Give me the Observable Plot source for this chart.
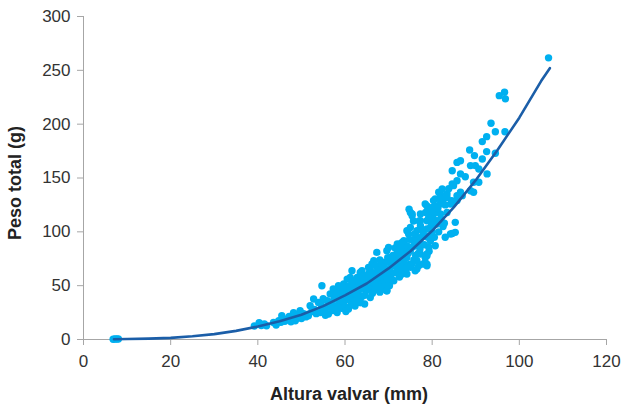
<!DOCTYPE html>
<html>
<head>
<meta charset="utf-8">
<script src="https://cdn.jsdelivr.net/npm/d3@7"></script>
<script src="https://cdn.jsdelivr.net/npm/@observablehq/plot@0.6"></script>
<style>
  html, body { margin: 0; padding: 0; background: #fff; }
  #chart svg { display: block; }
</style>
</head>
<body>
<div id="chart"></div>
<script>
// Observed points: Altura valvar (mm) vs Peso total (g)
const alturas = [
  6.8,7.2,7.6,8.0,
  39.2,40.3,40.8,41.5,42.0,43.6,44.2,44.8,45.5,45.3,
  46.2,46.7,47.2,47.6,48.2,48.6,49.0,49.4,49.7,50.0,50.5,
  51.0,51.6,51.6,52.0,52.4,52.8,53.0,53.4,53.9,54.3,54.7,54.7,54.5,55.0,55.3,55.5,55.9,56.2,56.2,56.6,56.8,57.2,57.3,57.6,57.9,
  58.2,58.2,58.5,58.6,59.0,59.2,59.7,59.7,59.8,60.0,60.2,60.5,60.5,60.8,61.0,61.2,61.2,61.5,61.6,62.0,62.0,62.3,62.5,62.8,62.8,
  63.0,63.3,63.5,63.5,63.9,63.9,64.0,64.3,64.3,64.5,64.8,65.1,65.2,65.4,65.8,65.8,66.0,66.2,66.3,66.6,66.6,66.9,67.0,67.3,67.3,
  67.3,67.5,67.7,68.0,68.1,68.4,68.9,68.9,69.0,69.3,69.6,69.6,69.6,69.8,70.0,70.2,70.4,70.4,70.7,71.0,71.2,71.2,71.5,71.6,72.0,
  72.3,72.5,72.7,72.7,73.0,73.1,73.1,73.1,73.5,73.8,74.2,74.2,74.2,74.2,74.6,74.7,74.8,75.0,75.0,75.0,75.0,75.4,75.4,75.6,75.8,
  76.1,76.1,76.5,76.5,76.5,76.5,76.8,77.0,77.3,77.3,77.3,77.3,77.5,77.8,78.0,78.4,78.4,78.4,78.4,78.8,78.8,78.8,78.8,78.8,
  79.2,79.2,79.6,79.6,79.6,79.9,80.0,80.3,80.3,80.5,80.7,80.7,80.7,81.1,81.1,81.5,81.5,81.9,81.9,81.9,82.3,82.6,82.5,83.0,
  83.4,83.4,83.4,84.2,84.2,84.5,84.6,84.6,84.6,84.9,84.9,85.3,85.3,85.7,85.7,85.7,85.7,86.5,86.5,86.5,86.9,87.6,88.6,88.8,88.8,
  89.5,89.5,89.7,89.9,90.7,90.7,91.5,91.5,92.5,92.5,92.6,93.5,94.5,94.5,95.4,96.6,96.8,96.7,106.7,
  60.8,63.5,76.9,61.5,58.0,57.0,59.0,64.0,66.0,68.5,70.8,72.0,62.0,65.0,
  58.5,59.5,60.5,61.5,60.0,61.0,58.8,
  62.5,63.5,64.5,65.5,63.0,64.0,65.0,62.2,66.0,65.6,
  66.5,67.5,68.5,69.5,67.0,68.0,69.0,70.0,66.8,68.2,69.2,
  70.5,71.5,72.5,73.5,71.0,72.0,73.0,70.2,71.8,73.5,74.0,
  74.5,75.5,76.5,77.5,75.3,76.2,77.2,74.8,76.0,77.7,75.7,
  78.2,79.0,80.0,79.3,80.2,79.5,78.5,80.8,
  81.3,82.0,83.0,82.8,83.8,81.8,
  70.0,72.0,73.5,78.8,78.8,69.6,67.3,66.9
];
const pesos = [
  0.3,0.4,0.4,0.5,
  12.5,15.5,13.0,14.5,12.8,15.8,13.5,17.5,22.0,16.0,
  17.0,19.0,21.5,16.5,25.0,17.4,20.0,23.0,26.7,19.5,24.0,
  21.0,23.6,22.0,31.3,26.0,37.6,28.0,24.0,34.4,25.1,29.7,49.9,33.0,38.0,27.0,22.5,36.0,23.6,30.0,42.2,33.0,27.0,47.0,38.0,31.0,
  45.3,25.1,49.9,35.0,40.0,29.0,51.5,32.9,44.0,37.0,26.0,48.3,56.1,29.7,41.0,36.0,57.6,46.0,63.9,43.7,52.0,31.0,38.0,48.3,57.6,
  44.0,35.0,62.3,34.4,63.9,40.0,50.0,54.6,48.3,33.0,45.0,56.1,60.0,66.9,65.4,39.0,52.0,70.1,43.0,48.3,73.2,58.0,62.0,56.1,80.9,
  48.3,66.0,54.6,44.0,62.3,70.0,71.6,46.9,57.0,64.0,54.6,45.3,82.5,76.0,60.0,50.0,62.3,76.2,69.0,55.0,68.5,54.6,85.0,74.0,64.0,
  84.0,58.0,74.7,88.7,79.0,68.5,60.8,90.2,65.0,83.0,60.8,76.2,87.1,101.0,98.0,121.0,70.0,67.0,82.5,104.0,118.0,115.0,116.6,92.0,74.0,
  87.1,63.9,65.4,73.2,94.8,101.0,80.0,110.0,79.4,110.3,116.6,105.7,88.0,70.0,97.0,96.4,71.6,76.2,125.9,124.0,110.3,102.6,79.4,68.5,
  113.4,86.0,91.8,104.1,116.6,107.3,122.7,129.0,108.8,95.0,124.0,87.1,130.5,110.3,107.3,136.7,100.0,135.0,116.6,125.9,139.8,130.5,105.0,95.0,
  132.0,118.0,135.2,125.9,98.0,129.0,98.5,144.5,156.8,127.4,142.9,99.5,108.8,133.6,129.0,147.5,164.5,166.0,153.8,136.7,133.6,151.2,176.0,161.5,138.2,
  136.7,146.0,170.8,161.5,158.4,146.0,167.7,183.8,174.5,188.4,153.8,200.8,193.0,173.0,226.5,229.6,223.5,193.0,261.6,
  28.3,34.4,68.5,55.0,42.0,35.0,47.0,58.0,62.0,52.0,72.0,80.0,39.0,47.0,
  30.0,36.0,40.0,33.0,45.0,50.0,42.0,
  42.0,47.0,41.0,47.0,54.0,59.0,51.0,36.0,57.0,62.0,
  52.0,58.0,52.0,60.0,69.0,74.0,67.0,72.0,46.0,49.0,50.0,
  57.0,62.0,67.0,72.0,78.0,80.0,86.0,66.0,71.0,78.0,66.0,
  80.0,86.0,90.0,95.0,70.0,78.0,84.0,93.0,98.0,102.0,110.0,
  88.0,95.0,100.0,82.0,113.0,120.0,118.0,118.0,
  122.0,112.0,125.0,108.0,140.0,131.0,
  85.5,88.7,91.8,77.8,70.0,45.3,46.9,51.5
];
// Fitted curve
const curvaX = [7,10,15,20,25,30,35,40,45,50,55,60,65,70,75,80,85,90,95,100,105,107];
const curvaY = [0.3,0.5,0.8,1.5,3,5,8,12,17,23,31,41,52,66,82,101,123,148,176,206,240,252];
const xTicks = [0,20,40,60,80,100,120];
const yTicks = [0,50,100,150,200,250,300];
const xLabel = "Altura valvar (mm)";
const yLabel = "Peso total (g)";

const puntos = alturas.map((a, i) => ({x: a, y: pesos[i]}));
const curva = curvaX.map((a, i) => ({x: a, y: curvaY[i]}));

const chart = Plot.plot({
  width: 622,
  height: 410,
  marginLeft: 83,
  marginRight: 16,
  marginTop: 16,
  marginBottom: 71,
  style: {fontFamily: "'Liberation Sans', Arial, sans-serif", background: "#fff"},
  x: {domain: [0, 120], axis: null},
  y: {domain: [0, 300], axis: null},
  marks: [
    Plot.ruleX([0], {stroke: "#a6a6a6", strokeWidth: 1}),
    Plot.ruleY([0], {stroke: "#a6a6a6", strokeWidth: 1}),
    Plot.axisX({ticks: xTicks, tickSize: 6, tickPadding: 9, fontSize: 17, stroke: "#a6a6a6", fill: "#333", label: null, tickFormat: d => String(d)}),
    Plot.axisY({ticks: yTicks, tickSize: 6, tickPadding: 7, fontSize: 17, stroke: "#a6a6a6", fill: "#333", label: null, tickFormat: d => String(d)}),
    Plot.dot(puntos, {x: "x", y: "y", r: 3.7, fill: "#00b0f0", stroke: "none"}),
    Plot.line(curva, {x: "x", y: "y", stroke: "#1b5ea8", strokeWidth: 2.6}),
    Plot.text([xLabel], {frameAnchor: "bottom", dy: 60, text: d => d, fontSize: 18, fontWeight: "bold", fill: "#222", dx: 4}),
    Plot.text([yLabel], {frameAnchor: "left", dx: -68, dy: 5, rotate: -90, textAnchor: "middle", text: d => d, fontSize: 18, fontWeight: "bold", fill: "#222"})
  ]
});
document.getElementById("chart").appendChild(chart);
</script>
</body>
</html>
